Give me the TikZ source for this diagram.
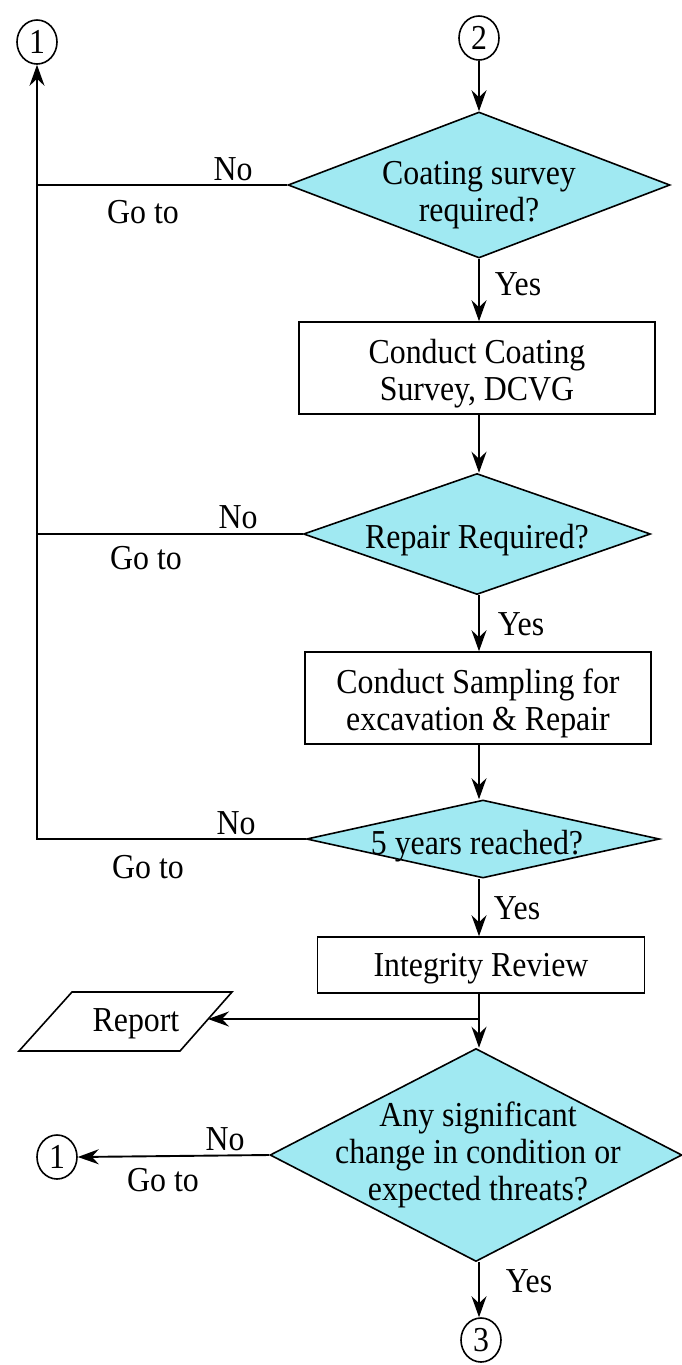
\documentclass[tikz,border=0pt]{standalone}
\usepackage{fontspec}
\setmainfont[FakeStretch=0.91]{Liberation Serif}
\usetikzlibrary{arrows.meta,shapes.geometric}
\definecolor{decfill}{RGB}{160,233,242}
\begin{document}
\begin{tikzpicture}[x=1pt,y=-1pt,
  every node/.style={font=\fontsize{35}{37}\selectfont},
  txt/.style={align=center,inner sep=0pt},
  conn/.style={draw,ellipse,line width=1.6pt,minimum width=40pt,minimum height=44pt,inner sep=0pt},
  decision/.style={draw,diamond,fill=decfill,line width=1.6pt,inner sep=0pt},
  process/.style={draw,rectangle,line width=1.6pt,inner sep=0pt},
  flow/.style={line width=1.9pt},
  arr/.style={flow,-{Stealth[length=21pt,width=15pt,inset=7pt]}}]
\useasboundingbox (0,0) rectangle (681,1365);

% connectors
\node[conn] (c1) at (37,42) {1};
\node[conn] (c2) at (479,38) {2};
\node[conn] (c1b) at (57,1157) {1};
\node[conn] (c3) at (481,1340) {3};

% decisions and process boxes
\node[decision,minimum width=382pt,minimum height=146pt] (d1) at (479,185) {};
\node[txt] (t1) at (479,195) {Coating survey\\required?};

\node[process,minimum width=356pt,minimum height=92pt] (b1) at (477,368) {};
\node[txt] (tb1) at (477,374) {Conduct Coating\\Survey, DCVG};

\node[decision,minimum width=347pt,minimum height=121pt] (d2) at (477,534) {};
\node[txt] (t2) at (477,540) {Repair Required?};

\node[process,minimum width=346pt,minimum height=92pt] (b2) at (478,698) {};
\node[txt] (tb2) at (478,703) {Conduct Sampling for\\excavation \& Repair};

\node[decision,minimum width=353pt,minimum height=78pt] (d3) at (483,839) {};
\node[txt] (t3) at (477,846) {5 years reached?};

\node[process,minimum width=327pt,minimum height=56pt] (b3) at (481,965) {};
\node[txt] (tb3) at (481,969) {Integrity Review};

\node[decision,minimum width=412pt,minimum height=213pt] (d4) at (476,1155) {};
\node[txt] (t4) at (478,1155) {Any significant\\change in condition or\\expected threats?};

% report (data shape)
\draw[line width=1.6pt] (72,992) -- (232,992) -- (180,1051) -- (19,1051) -- cycle;
\node[txt] (rep) at (136,1024) {Report};
\coordinate (repin) at (208,1019);

% main flow
\draw[arr] (c2.south) -- (d1.north);
\draw[arr] (d1.south) -- (b1.north -| d1.south);
\draw[arr] (b1.south -| d1.south) -- (d2.north -| d1.south);
\draw[arr] (d2.south -| d1.south) -- (b2.north -| d1.south);
\draw[arr] (b2.south -| d1.south) -- (d3.north -| d1.south);
\draw[arr] (d3.south -| d1.south) -- (b3.north -| d1.south);
\draw[arr] (b3.south -| d1.south) -- (d4.north -| d1.south);
\draw[arr] (b3.south -| d1.south) |- (repin);
\draw[arr] (d4.south -| d1.south) -- (c3.north -| d1.south);

% return paths
\draw[flow] (d1.west) -- (d1.west -| c1.south);
\draw[flow] (d2.west) -- (d2.west -| c1.south);
\draw[arr] (d3.west) -- (d3.west -| c1.south) -- (c1.south);
\draw[arr] (d4.west) -- (c1b.east);

% branch labels
\node[txt] (n1) at (233,169) {No};
\node[txt] (g1) at (143,212) {Go to};
\node[txt] (y1) at (518,284) {Yes};
\node[txt] (n2) at (238,517) {No};
\node[txt] (g2) at (146,558) {Go to};
\node[txt] (y2) at (521,624) {Yes};
\node[txt] (n3) at (236,823) {No};
\node[txt] (g3) at (148,867) {Go to};
\node[txt] (y3) at (517,908) {Yes};
\node[txt] (n4) at (225,1139) {No};
\node[txt] (g4) at (163,1180) {Go to};
\node[txt] (y4) at (529,1281) {Yes};
\end{tikzpicture}
\end{document}
